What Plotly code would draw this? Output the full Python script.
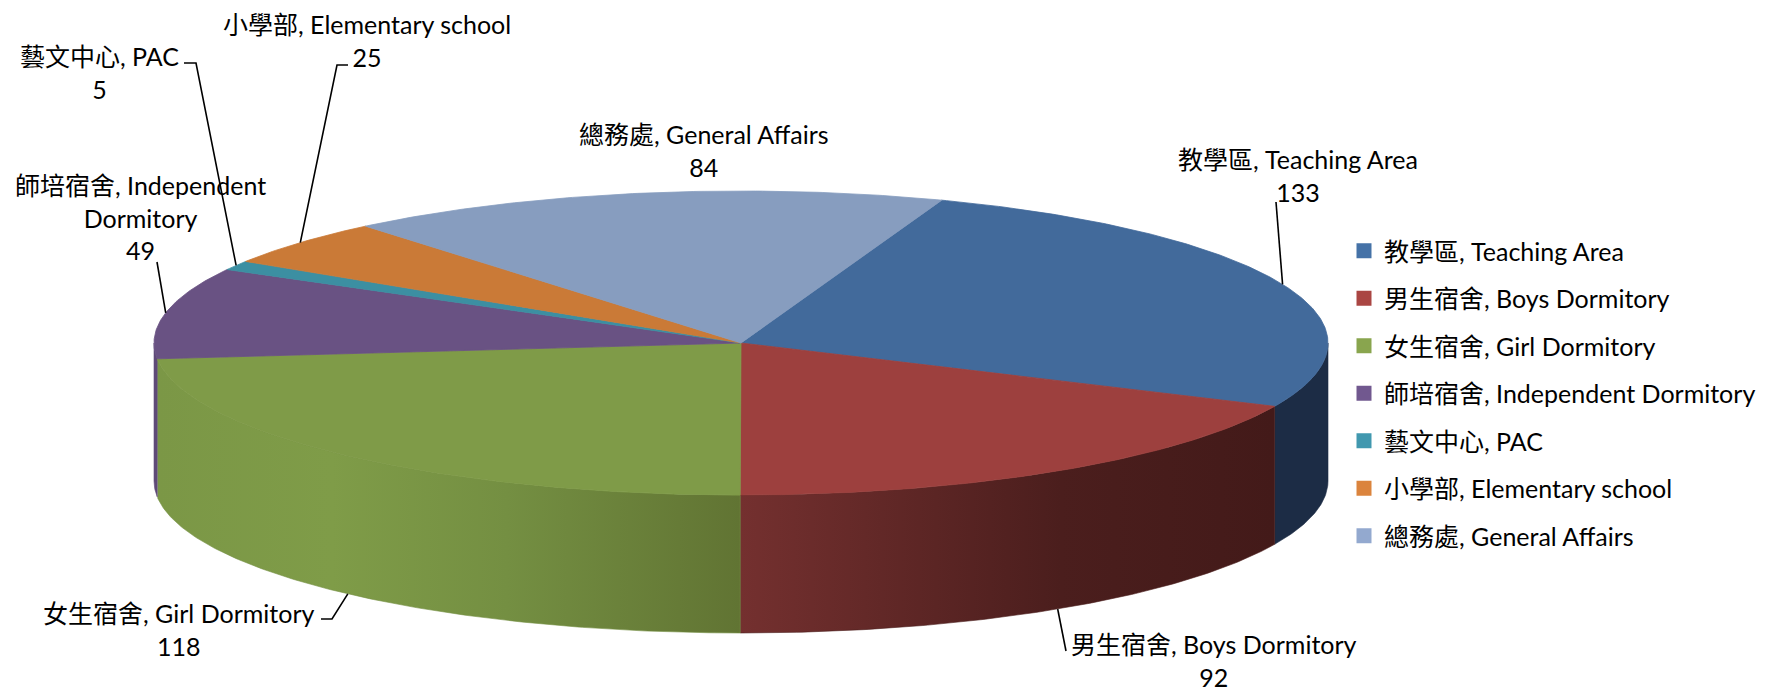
import math
import plotly.graph_objects as go

# ---------------- data ----------------
categories = ["教學區, Teaching Area", "男生宿舍, Boys Dormitory", "女生宿舍, Girl Dormitory",
              "師培宿舍, Independent Dormitory", "藝文中心, PAC", "小學部, Elementary school",
              "總務處, General Affairs"]
values = [133, 92, 118, 49, 5, 25, 84]
label_names = ["教學區, Teaching Area", "男生宿舍, Boys Dormitory", "女生宿舍, Girl Dormitory",
               "師培宿舍, Independent<br>Dormitory", "藝文中心, PAC", "小學部, Elementary school",
               "總務處, General Affairs"]

# ---------------- styles ----------------
legend_colors = ["#4572A7", "#AA4643", "#89A54E", "#71588F", "#4198AF", "#DB843D", "#93A9CF"]
top_colors = ["#426A9B", "#9D403E", "#7F9B48", "#695283", "#3C8FA2", "#CA7A37", "#879DBF"]
wall_scales = [
    [[0, "#1C2C45"], [1, "#1C2C45"]],
    [[0, "#74302F"], [0.6, "#4B1E1D"], [1, "#431A19"]],
    [[0, "#7B9746"], [0.3, "#7F9C48"], [0.6, "#748F42"], [1, "#617433"]],
    [[0, "#5F4A78"], [1, "#5F4A78"]],
    [[0, "#2F7282"], [1, "#2F7282"]],
    [[0, "#A2612C"], [1, "#A2612C"]],
    [[0, "#6C7E99"], [1, "#6C7E99"]],
]
FONT = "Lato, 'Noto Sans CJK TC', sans-serif"
FONT_SIZE = 25

# ---------------- layout geometry ----------------
W, H = 1778, 693
CX, CY, RX, RY, DEPTH = 741, 343, 587, 152, 138
START = 20.0  # first slice angle (deg, clockwise from 12 o'clock)

# label placement (center x, center y) and leader paths (label side)
label_pos = [(1298, 175), (1214, 660), (178, 629), (140, 217), (99, 72), (367, 40), (704, 150)]
leader_rim = ["top", "bottom", "bottom", "top", "top", "top", None]
leader_path = [
    [(1276, 202)],
    [(1066, 651)],
    [(332, 619), (321, 619)],
    [(157, 262)],
    [(196, 63), (184, 63)],
    [(337, 65), (348, 65)],
    [],
]


def pt(theta, drop=0.0):
    t = math.radians(theta)
    return CX + RX * math.sin(t), CY - RY * math.cos(t) + drop


def arc(a, b, drop=0.0):
    n = max(2, int(abs(b - a) * 2) + 1)
    return [pt(a + (b - a) * i / (n - 1), drop) for i in range(n)]


total = float(sum(values))
bounds = []
acc = START
for v in values:
    span = v / total * 360.0
    bounds.append((acc, acc + span))
    acc += span

fig = go.Figure()

# side walls (front half only)
for i, (a, b) in enumerate(bounds):
    lo, hi = max(a, 90.0), min(b, 270.0)
    if lo >= hi:
        continue
    top = arc(lo, hi)
    bot = arc(hi, lo, DEPTH)
    pts = top + bot + [top[0]]
    fig.add_trace(go.Scatter(
        x=[p[0] for p in pts], y=[p[1] for p in pts], mode="lines", fill="toself",
        fillgradient=dict(type="horizontal", colorscale=wall_scales[i]),
        line=dict(width=0.6, color=wall_scales[i][len(wall_scales[i]) // 2][1]),
        hoverinfo="skip", showlegend=False))

# top faces
for i, (a, b) in enumerate(bounds):
    pts = [(CX, CY)] + arc(a, b) + [(CX, CY)]
    fig.add_trace(go.Scatter(
        x=[p[0] for p in pts], y=[p[1] for p in pts], mode="lines", fill="toself",
        fillcolor=top_colors[i], line=dict(width=0.8, color=top_colors[i]),
        hoverinfo="text", text=f"{categories[i]}: {values[i]}", showlegend=False))

# leader lines
for i, (a, b) in enumerate(bounds):
    if leader_rim[i] is None:
        continue
    m = (a + b) / 2.0
    start = pt(m, DEPTH if leader_rim[i] == "bottom" else 0.0)
    pts = [start] + leader_path[i]
    fig.add_trace(go.Scatter(
        x=[p[0] for p in pts], y=[p[1] for p in pts], mode="lines",
        line=dict(color="black", width=1.6), hoverinfo="skip", showlegend=False))

# data labels
for i in range(len(values)):
    fig.add_annotation(
        x=label_pos[i][0], y=label_pos[i][1], xref="x", yref="y",
        text=f"{label_names[i]}<br>{values[i]}", showarrow=False,
        xanchor="center", yanchor="middle", align="center",
        font=dict(family=FONT, size=FONT_SIZE, color="black"))

# legend entries
for i, name in enumerate(categories):
    fig.add_trace(go.Scatter(
        x=[None], y=[None], mode="markers", name=name, legendgroup=f"g{i}",
        marker=dict(symbol="square", size=15, color=legend_colors[i]),
        showlegend=True))

fig.update_layout(
    width=W, height=H, margin=dict(l=0, r=0, t=0, b=0),
    paper_bgcolor="white", plot_bgcolor="white",
    xaxis=dict(range=[0, W], visible=False, fixedrange=True),
    yaxis=dict(range=[H, 0], visible=False, fixedrange=True),
    legend=dict(x=(1344) / W, y=1 - 228 / H, xanchor="left", yanchor="top",
                font=dict(family=FONT, size=FONT_SIZE, color="black"),
                tracegroupgap=12, bgcolor="rgba(0,0,0,0)", traceorder="grouped"),
    font=dict(family=FONT),
    showlegend=True,
)

fig.write_html("out.html", config={"displayModeBar": False},
               post_script="document.body.style.margin='0';")
